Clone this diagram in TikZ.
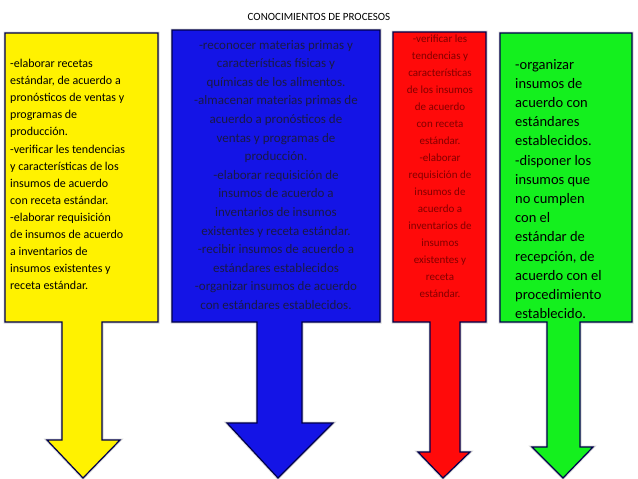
\documentclass[tikz,border=0pt]{standalone}
\usepackage{fontspec}
\setmainfont{Carlito}
\tikzset{
  arr/.style={draw=black!70!blue, line width=1.2pt, line join=miter},
  shad/.style={draw=gray!50, line width=3pt, opacity=0.6, line join=miter},
  txt/.style={inner sep=0pt, anchor=north}
}
\begin{document}
\begin{tikzpicture}[x=1pt,y=-1pt]
\useasboundingbox (0,0) rectangle (638,479);
\fill[white] (0,0) rectangle (638,479);
\node[font=\fontsize{11}{13}\selectfont] (title) at (319,17) {CONOCIMIENTOS DE PROCESOS};
\foreach \bx/\bX/\bt/\bb/\sa/\sb/\hy/\ha/\hb/\tx/\col in {
 5/158/33/322/62/102/440/47/120/83/yellow,
 172/380/30/322/257/302/423/227/333/278/{rgb,255:red,20;green,20;blue,230},
 393/486/32/322/430/460/452/418/470/443/{rgb,255:red,255;green,10;blue,10},
 500/632/33/322/547/580/447/532/593/563/{rgb,255:red,20;green,240;blue,30}}{
  \draw[shad] (\bx,\bt) -- (\bX,\bt) -- (\bX,\bb) -- (\sb,\bb) -- (\sb,\hy) -- (\hb,\hy) -- (\tx,478) -- (\ha,\hy) -- (\sa,\hy) -- (\sa,\bb) -- (\bx,\bb) -- cycle;
  \draw[arr, fill=\col] (\bx,\bt) -- (\bX,\bt) -- (\bX,\bb) -- (\sb,\bb) -- (\sb,\hy) -- (\hb,\hy) -- (\tx,478) -- (\ha,\hy) -- (\sa,\hy) -- (\sa,\bb) -- (\bx,\bb) -- cycle;
}
\node[txt, anchor=north west, align=left, font=\fontsize{12}{17.1}\selectfont] (ty) at (10,59) {-elaborar recetas\\estándar, de acuerdo a\\pronósticos de ventas y\\programas de\\producción.\\-verificar les tendencias\\y características de los\\insumos de acuerdo\\con receta estándar.\\-elaborar requisición\\de insumos de acuerdo\\a inventarios de\\insumos existentes y\\receta estándar.};
\node[txt, align=center, text={rgb,255:red,25;green,25;blue,70}, font=\fontsize{13}{18.6}\selectfont] (tb) at (276,40) {-reconocer materias primas y\\características físicas y\\químicas de los alimentos.\\-almacenar materias primas de\\acuerdo a pronósticos de\\ventas y programas de\\producción.\\-elaborar requisición de\\insumos de acuerdo a\\inventarios de insumos\\existentes y receta estándar.\\-recibir insumos de acuerdo a\\estándares establecidos\\-organizar insumos de acuerdo\\con estándares establecidos.};
\node[txt, align=center, text={rgb,255:red,130;green,0;blue,0}, font=\fontsize{11}{17}\selectfont] (tr) at (440,35) {-verificar les\\tendencias y\\características\\de los insumos\\de acuerdo\\con receta\\estándar.\\-elaborar\\requisición de\\insumos de\\acuerdo a\\inventarios de\\insumos\\existentes y\\receta\\estándar.};
\node[txt, anchor=north west, align=left, font=\fontsize{14.5}{19.2}\selectfont] (tg) at (515,59) {-organizar\\insumos de\\acuerdo con\\estándares\\establecidos.\\-disponer los\\insumos que\\no cumplen\\con el\\estándar de\\recepción, de\\acuerdo con el\\procedimiento\\establecido.};
\end{tikzpicture}
\end{document}
